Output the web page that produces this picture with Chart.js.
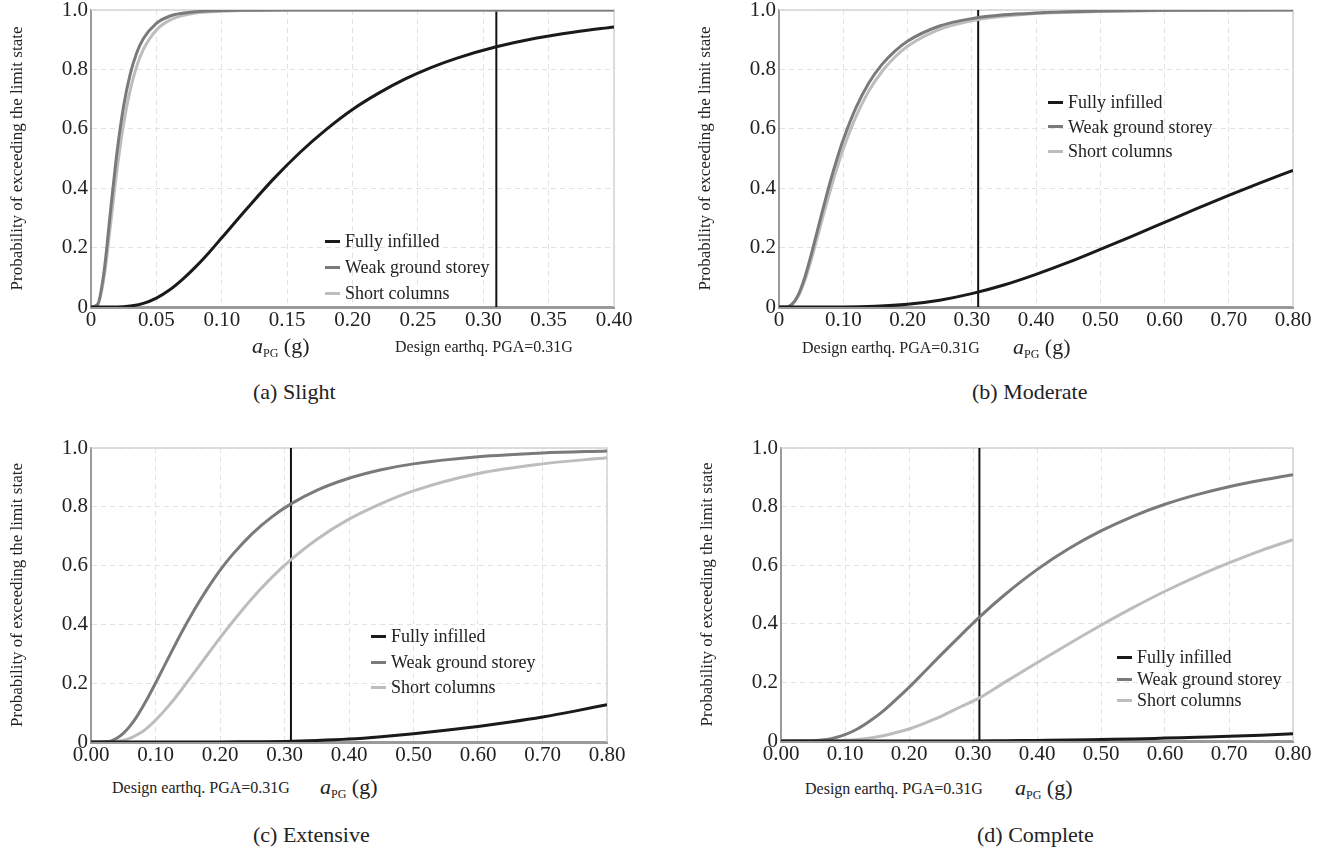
<!DOCTYPE html>
<html>
<head>
<meta charset="utf-8">
<script src="https://cdn.jsdelivr.net/npm/chart.js@4.4.1/dist/chart.umd.min.js"></script>
<style>
  body { margin:0; background:#fff; width:1331px; height:852px; position:relative; overflow:hidden;
         font-family:"Liberation Serif","Times New Roman",serif; color:#222; }
  canvas { position:absolute; }
  .txt { position:absolute; white-space:nowrap; transform:translateY(-50%); }
  .xt { font-size:22px; }
  .xt sub { font-size:12px; vertical-align:-4px; }
  .pga { font-size:16px; }
  .cap { font-size:22px; }
  .leg { position:absolute; font-size:18px; white-space:nowrap; }
  .leg div { display:flex; align-items:center; }
  .sw { display:inline-block; width:15px; height:3px; margin-right:5px; }
</style>
</head>
<body>
<canvas id="chartA" width="650" height="335" style="left:0;top:0"></canvas>
<canvas id="chartB" width="640" height="335" style="left:688px;top:0"></canvas>
<canvas id="chartC" width="650" height="332" style="left:0;top:438px"></canvas>
<canvas id="chartD" width="640" height="331" style="left:690px;top:438px"></canvas>

<!-- axis titles, notes and captions -->
<div class="txt xt" style="left:252px;top:347px"><i>a</i><sub>PG</sub> (g)</div>
<div class="txt pga" style="left:395px;top:347px">Design earthq. PGA=0.31G</div>
<div class="txt cap" style="left:253px;top:392px">(a) Slight</div>

<div class="txt pga" style="left:802px;top:348px">Design earthq. PGA=0.31G</div>
<div class="txt xt" style="left:1013px;top:348px"><i>a</i><sub>PG</sub> (g)</div>
<div class="txt cap" style="left:972px;top:392px">(b) Moderate</div>

<div class="txt pga" style="left:112px;top:788px">Design earthq. PGA=0.31G</div>
<div class="txt xt" style="left:320px;top:788px"><i>a</i><sub>PG</sub> (g)</div>
<div class="txt cap" style="left:253px;top:835px">(c) Extensive</div>

<div class="txt pga" style="left:805px;top:789px">Design earthq. PGA=0.31G</div>
<div class="txt xt" style="left:1015px;top:789px"><i>a</i><sub>PG</sub> (g)</div>
<div class="txt cap" style="left:977px;top:835px">(d) Complete</div>

<div id="legA" class="leg" style="left:325px;top:228px;line-height:26px"></div>
<div id="legB" class="leg" style="left:1048px;top:90px;line-height:24.5px"></div>
<div id="legC" class="leg" style="left:371px;top:624px;line-height:25.5px"></div>
<div id="legD" class="leg" style="left:1117px;top:647px;line-height:21.5px"></div>

<script>
// series names and colours
const seriesNames = ["Fully infilled", "Weak ground storey", "Short columns"];
const seriesColors = ["#1a1a1a", "#7a7a7a", "#bdbdbd"];
const designPGA = 0.31;

// tick labels
const yTicks = ["0", "0.2", "0.4", "0.6", "0.8", "1.0"];
const xTicksA = ["0", "0.05", "0.10", "0.15", "0.20", "0.25", "0.30", "0.35", "0.40"];
const xTicksB = ["0", "0.10", "0.20", "0.30", "0.40", "0.50", "0.60", "0.70", "0.80"];
const xTicksCD = ["0.00", "0.10", "0.20", "0.30", "0.40", "0.50", "0.60", "0.70", "0.80"];

// (a) Slight
const xA_gray = [0, 0.005, 0.01, 0.015, 0.02, 0.025, 0.03, 0.035, 0.04, 0.05, 0.06, 0.07, 0.08, 0.10, 0.12, 0.15, 0.20, 0.30, 0.40];
const weakA = [0, 0.008, 0.12, 0.326, 0.525, 0.678, 0.784, 0.856, 0.903, 0.955, 0.979, 0.989, 0.994, 0.998, 0.999, 1, 1, 1, 1];
const shortA = [0, 0.007, 0.10, 0.28, 0.466, 0.618, 0.731, 0.811, 0.867, 0.933, 0.965, 0.981, 0.99, 0.996, 0.999, 1, 1, 1, 1];
const xA_full = [0, 0.02, 0.03, 0.04, 0.05, 0.06, 0.07, 0.08, 0.09, 0.10, 0.12, 0.14, 0.16, 0.18, 0.20, 0.22, 0.24, 0.26, 0.28, 0.31, 0.34, 0.37, 0.40];
const fullA = [0, 0, 0.003, 0.012, 0.03, 0.057, 0.093, 0.135, 0.182, 0.233, 0.335, 0.433, 0.521, 0.598, 0.665, 0.72, 0.767, 0.806, 0.838, 0.876, 0.905, 0.926, 0.943];

// (b) Moderate
const xB_gray = [0, 0.01, 0.02, 0.03, 0.04, 0.05, 0.06, 0.07, 0.08, 0.09, 0.10, 0.12, 0.14, 0.16, 0.18, 0.20, 0.25, 0.30, 0.35, 0.40, 0.50, 0.60, 0.80];
const weakB = [0, 0, 0.009, 0.041, 0.099, 0.175, 0.259, 0.343, 0.424, 0.497, 0.563, 0.672, 0.755, 0.816, 0.861, 0.895, 0.946, 0.971, 0.984, 0.99, 0.9965, 0.999, 1];
const shortB = [0, 0, 0.0075, 0.036, 0.088, 0.158, 0.237, 0.317, 0.394, 0.466, 0.532, 0.642, 0.728, 0.792, 0.841, 0.878, 0.935, 0.964, 0.979, 0.988, 0.995, 0.998, 1];
const xB_full = [0, 0.10, 0.15, 0.20, 0.25, 0.30, 0.35, 0.40, 0.45, 0.50, 0.55, 0.60, 0.65, 0.70, 0.75, 0.80];
const fullB = [0, 0.0002, 0.0024, 0.0092, 0.023, 0.045, 0.074, 0.11, 0.15, 0.194, 0.239, 0.285, 0.331, 0.376, 0.419, 0.46];

// (c) Extensive
const xC_gray = [0, 0.03, 0.04, 0.05, 0.06, 0.07, 0.08, 0.09, 0.10, 0.12, 0.14, 0.16, 0.18, 0.20, 0.22, 0.25, 0.28, 0.31, 0.35, 0.40, 0.45, 0.50, 0.60, 0.70, 0.80];
const weakC = [0, 0.003, 0.0127, 0.029, 0.053, 0.083, 0.119, 0.158, 0.20, 0.286, 0.371, 0.449, 0.52, 0.584, 0.639, 0.709, 0.765, 0.81, 0.856, 0.897, 0.926, 0.946, 0.97, 0.983, 0.99];
const shortC = [0, 0, 0.002, 0.006, 0.0125, 0.023, 0.036, 0.0535, 0.074, 0.122, 0.177, 0.236, 0.295, 0.354, 0.41, 0.489, 0.559, 0.62, 0.689, 0.758, 0.811, 0.854, 0.913, 0.946, 0.967];
const xC_full = [0, 0.20, 0.25, 0.30, 0.35, 0.40, 0.45, 0.50, 0.55, 0.60, 0.65, 0.70, 0.75, 0.80];
const fullC = [0, 0, 0.001, 0.002, 0.005, 0.01, 0.018, 0.028, 0.04, 0.053, 0.068, 0.085, 0.105, 0.127];

// (d) Complete
const xD_gray = [0, 0.05, 0.06, 0.08, 0.10, 0.12, 0.14, 0.16, 0.18, 0.20, 0.22, 0.25, 0.28, 0.31, 0.35, 0.40, 0.45, 0.50, 0.55, 0.60, 0.65, 0.70, 0.75, 0.80];
const weakD = [0, 0.0005, 0.0022, 0.0087, 0.0217, 0.042, 0.07, 0.103, 0.142, 0.183, 0.227, 0.294, 0.359, 0.423, 0.50, 0.585, 0.657, 0.717, 0.767, 0.808, 0.841, 0.868, 0.89, 0.909];
const shortD = [0, 0, 0, 0.0005, 0.0022, 0.0054, 0.0106, 0.018, 0.029, 0.041, 0.057, 0.084, 0.116, 0.147, 0.201, 0.267, 0.332, 0.395, 0.455, 0.511, 0.562, 0.608, 0.65, 0.687];
const xD_full = [0, 0.30, 0.35, 0.40, 0.45, 0.50, 0.55, 0.60, 0.65, 0.70, 0.75, 0.80];
const fullD = [0, 0, 0.001, 0.002, 0.003, 0.005, 0.007, 0.01, 0.013, 0.016, 0.02, 0.025];

const pts = (xs, ys) => xs.map((x, i) => ({ x: x, y: ys[i] }));

const curve = (xs, ys, k) => ({
  label: seriesNames[k],
  data: pts(xs, ys),
  borderColor: seriesColors[k],
  borderWidth: 3,
  pointRadius: 0,
  cubicInterpolationMode: "monotone",
  fill: false,
});

const pgaLine = () => ({
  label: "PGA",
  data: [{ x: designPGA, y: 0 }, { x: designPGA, y: 1 }],
  borderColor: "#111",
  borderWidth: 2,
  pointRadius: 0,
});

// light frame on top and right of the plot area
const framePlugin = {
  id: "frame",
  beforeDatasetsDraw(chart) {
    const a = chart.chartArea;
    const ctx = chart.ctx;
    ctx.save();
    ctx.strokeStyle = "#d4d4d4";
    ctx.lineWidth = 1.5;
    ctx.beginPath();
    ctx.moveTo(a.left, a.top);
    ctx.lineTo(a.right, a.top);
    ctx.lineTo(a.right, a.bottom);
    ctx.stroke();
    ctx.restore();
  },
};

const tickFont = { family: "'Liberation Serif', serif", size: 21 };

const makePanel = (id, datasets, xMax, xStep, xLabels, padRight, xHeight) => {
  new Chart(document.getElementById(id), {
    type: "line",
    data: { datasets: datasets },
    plugins: [framePlugin],
    options: {
      responsive: false,
      animation: false,
      devicePixelRatio: 1,
      layout: { padding: { top: 10, right: padRight, left: 0, bottom: 0 } },
      plugins: { legend: { display: false }, tooltip: { enabled: false } },
      scales: {
        x: {
          type: "linear",
          min: 0,
          max: xMax,
          afterFit: (s) => { s.height = xHeight; s.paddingLeft = 0; s.paddingRight = 0; },
          ticks: {
            stepSize: xStep,
            autoSkip: false,
            maxRotation: 0,
            padding: 1,
            color: "#222",
            font: tickFont,
            callback: (v, i) => xLabels[i],
          },
          grid: { color: "#e2e2e2", lineWidth: 1, drawTicks: false },
          border: { color: "#9a9a9a", width: 3, dash: [5, 4] },
        },
        y: {
          min: 0,
          max: 1,
          afterFit: (s) => { s.width = 91; s.paddingTop = 0; s.paddingBottom = 0; },
          ticks: {
            stepSize: 0.2,
            padding: 3,
            color: "#222",
            font: tickFont,
            callback: (v, i) => yTicks[i],
          },
          grid: { color: "#e2e2e2", lineWidth: 1, drawTicks: false },
          border: { color: "#9a9a9a", width: 2, dash: [5, 4] },
          title: {
            display: true,
            text: "Probability of exceeding the limit state",
            color: "#222",
            font: { family: "'Liberation Serif', serif", size: 17 },
            padding: { top: 7, bottom: 0 },
          },
        },
      },
    },
  });
};

makePanel("chartA", [
  curve(xA_full, fullA, 0),
  curve(xA_gray, weakA, 1),
  curve(xA_gray, shortA, 2),
  pgaLine(),
], 0.4, 0.05, xTicksA, 36, 28);

makePanel("chartB", [
  curve(xB_full, fullB, 0),
  curve(xB_gray, weakB, 1),
  curve(xB_gray, shortB, 2),
  pgaLine(),
], 0.8, 0.1, xTicksB, 35, 28);

makePanel("chartC", [
  curve(xC_full, fullC, 0),
  curve(xC_gray, weakC, 1),
  curve(xC_gray, shortC, 2),
  pgaLine(),
], 0.8, 0.1, xTicksCD, 43, 28);

makePanel("chartD", [
  curve(xD_full, fullD, 0),
  curve(xD_gray, weakD, 1),
  curve(xD_gray, shortD, 2),
  pgaLine(),
], 0.8, 0.1, xTicksCD, 37, 28);

// legends
["legA", "legB", "legC", "legD"].forEach((id) => {
  const box = document.getElementById(id);
  seriesNames.forEach((name, k) => {
    const row = document.createElement("div");
    row.innerHTML = '<span class="sw" style="background:' + seriesColors[k] + '"></span>' + name;
    box.appendChild(row);
  });
});
</script>
</body>
</html>
